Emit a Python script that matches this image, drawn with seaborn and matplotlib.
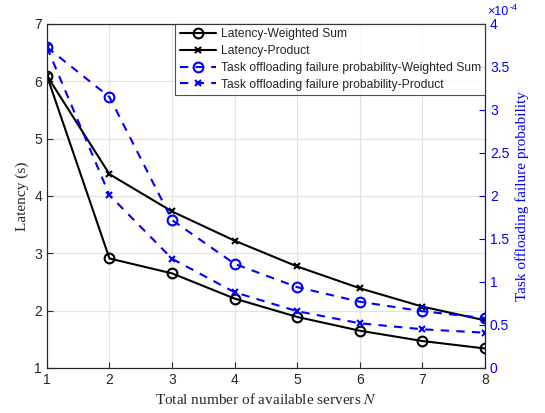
import numpy as np
import pandas as pd
import matplotlib
matplotlib.use("Agg")
import matplotlib.pyplot as plt
import seaborn as sns
from matplotlib.ticker import FuncFormatter

servers = [1, 2, 3, 4, 5, 6, 7, 8]

# latency (s)
latency_ws = [6.10, 2.91, 2.65, 2.21, 1.89, 1.65, 1.47, 1.34]
latency_prod = [6.10, 4.38, 3.73, 3.22, 2.77, 2.39, 2.07, 1.83]

# failure probability, in units of 1e-4
fail_ws = [3.73, 3.15, 1.72, 1.21, 0.94, 0.77, 0.66, 0.58]
fail_prod = [3.73, 2.01, 1.27, 0.88, 0.66, 0.52, 0.45, 0.41]

sns.set_style("ticks")
plt.rcParams["font.family"] = ["Liberation Sans", "DejaVu Sans"]
plt.rcParams["mathtext.fontset"] = "stix"

fig = plt.figure(figsize=(5.45, 4.13), dpi=100)
ax = fig.add_axes([0.086, 0.109, 0.804, 0.833])
ax2 = ax.twinx()

sns.lineplot(x=servers, y=latency_ws, ax=ax, color="black", lw=1.5,
             marker="o", markersize=7, markerfacecolor="none",
             markeredgecolor="black", markeredgewidth=1.5,
             label="Latency-Weighted Sum", legend=False)
sns.lineplot(x=servers, y=latency_prod, ax=ax, color="black", lw=1.5,
             marker="x", markersize=5, markeredgewidth=1.5,
             markeredgecolor="black",
             label="Latency-Product", legend=False)

sns.lineplot(x=servers, y=fail_ws, ax=ax2, color="blue", lw=1.5,
             linestyle=(0, (4, 3.5)),
             marker="o", markersize=7, markerfacecolor="none",
             markeredgecolor="blue", markeredgewidth=1.5,
             label="Task offloading failure probability-Weighted Sum", legend=False)
sns.lineplot(x=servers, y=fail_prod, ax=ax2, color="blue", lw=1.5,
             linestyle=(0, (4, 3.5)),
             marker="x", markersize=5, markeredgewidth=1.5,
             markeredgecolor="blue",
             label="Task offloading failure probability-Product", legend=False)

ax.set_xlim(1, 8)
ax.set_ylim(1, 7)
ax2.set_ylim(0, 4)
ax.set_xticks(servers)
ax.set_yticks(range(1, 8))
ax2.set_yticks(np.arange(0, 4.01, 0.5))
ax2.yaxis.set_major_formatter(FuncFormatter(lambda v, p: f"{v:g}"))

ax.grid(True, color="#e3e3e3", lw=0.9)
ax.set_axisbelow(True)

for a in (ax, ax2):
    a.tick_params(direction="in", length=4, width=0.8, labelsize=10)
    for s in a.spines.values():
        s.set_linewidth(0.8)
        s.set_color("#262626")
ax.tick_params(colors="#262626")
ax2.spines["right"].set_color("blue")
ax2.tick_params(axis="y", colors="blue")

ax.set_xlabel("Total number of available servers $N$", family="Liberation Serif",
              fontsize=11, color="#262626")
ax.set_ylabel("Latency (s)", family="Liberation Serif", fontsize=11, color="#262626")
ax2.set_ylabel("Task offloading failure probability", family="Liberation Serif",
               fontsize=11, color="blue")
# axis multiplier, written as two pieces so it stays in the sans face
ax2.text(1.004, 1.026, "×10", transform=ax2.transAxes, color="blue",
         fontsize=9, ha="left", va="baseline")
ax2.text(1.055, 1.041, "-4", transform=ax2.transAxes, color="blue",
         fontsize=6.5, ha="left", va="baseline")

h1, l1 = ax.get_legend_handles_labels()
h2, l2 = ax2.get_legend_handles_labels()
leg = ax2.legend(h1 + h2, l1 + l2, loc="upper right", borderaxespad=0,
                 fontsize=8.7, frameon=True, fancybox=False, edgecolor="#262626",
                 handlelength=3.0, labelspacing=0.4, borderpad=0.35,
                 handletextpad=0.4)
leg.get_frame().set_linewidth(0.8)

fig.savefig("out.png", dpi=100)
